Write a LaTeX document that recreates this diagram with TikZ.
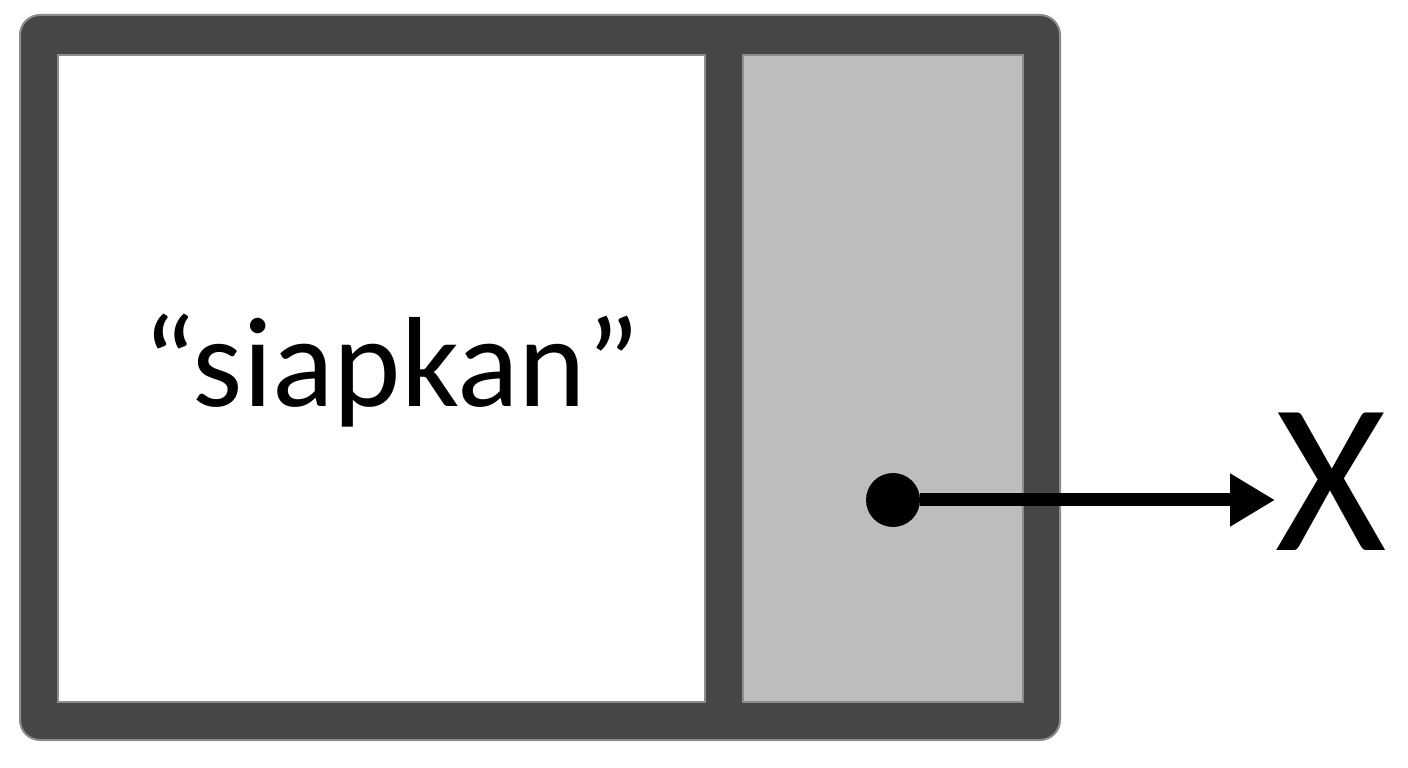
\documentclass[tikz,border=0pt]{standalone}
\usepackage{fontspec}
\setmainfont{Carlito}
\usetikzlibrary{arrows.meta,positioning}
\definecolor{framegray}{HTML}{464646}
\definecolor{cellgray}{HTML}{BDBDBD}
\definecolor{edgegray}{HTML}{8C8C8C}

\begin{document}
\begin{tikzpicture}[x=0.2mm,y=-0.2mm]

\tikzset{cell/.style={draw=edgegray, line width=0.4mm},
dot/.style={circle, fill=black, minimum size=10.8mm, inner sep=0pt},
ptrarrow/.style={line width=2.6mm, -{Triangle[length=9mm,width=10mm]}}}

\useasboundingbox (0,0) rectangle (1408,768);

%the outer frame
\filldraw[draw=edgegray, line width=0.4mm, fill=framegray, rounded corners=4mm] (20,15) rectangle (1060,740);

\filldraw[cell, fill=white] (58,55) rectangle (705,702);
\filldraw[cell, fill=cellgray] (743,55) rectangle (1023,702);

\node[anchor=base, inner sep=0pt, font=\fontsize{73}{80}\selectfont] (word) at (391,407) {“siapkan”};

%now the pointer
\node[dot] (ptrdot) at (893,500) {};
\node[anchor=west, inner sep=0pt, font=\fontsize{122}{130}\selectfont] (nil) at (1275,482) {X};

\draw[ptrarrow] (ptrdot) -- (ptrdot -| nil.west);

\end{tikzpicture}
\end{document}
